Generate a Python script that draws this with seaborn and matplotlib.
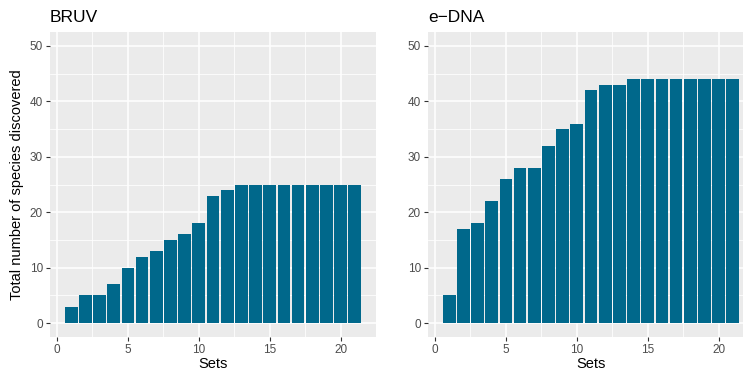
import numpy as np
import pandas as pd
import matplotlib
matplotlib.use("Agg")
import matplotlib.pyplot as plt
from matplotlib.ticker import MultipleLocator
import seaborn as sns

sets = list(range(1, 22))
bruv = [3, 5, 5, 7, 10, 12, 13, 15, 16, 18, 23, 24, 25, 25, 25, 25, 25, 25, 25, 25, 25]
edna = [5, 17, 18, 22, 26, 28, 28, 32, 35, 36, 42, 43, 43, 44, 44, 44, 44, 44, 44, 44, 44]
panel_titles = ["BRUV", "e\u2212DNA"]
bar_color = "#00688B"

plt.rcParams['font.family'] = ['Liberation Sans', 'DejaVu Sans']

fig = plt.figure(figsize=(7.43, 3.75), dpi=100)
W, H = 743, 375
panel_w = 326
panel_h = 305
lefts = [50, 428]
bottom = 375 - 337

for i, (vals, title) in enumerate(zip([bruv, edna], panel_titles)):
    ax = fig.add_axes([lefts[i] / W, bottom / H, panel_w / W, panel_h / H])
    df = pd.DataFrame({"Sets": sets, "Species": vals})
    ax.set_facecolor("#EBEBEB")
    ax.set_axisbelow(True)
    sns.barplot(data=df, x="Sets", y="Species", native_scale=True, color=bar_color,
                saturation=1, width=0.9, edgecolor="none", linewidth=0, ax=ax, zorder=3)
    ax.set_xlim(-0.495, 22.495)
    ax.set_ylim(-2.5, 52.5)
    ax.xaxis.set_major_locator(MultipleLocator(5))
    ax.xaxis.set_minor_locator(MultipleLocator(2.5))
    ax.yaxis.set_major_locator(MultipleLocator(10))
    ax.yaxis.set_minor_locator(MultipleLocator(5))
    ax.grid(which="major", color="white", linewidth=1.1, zorder=0)
    ax.grid(which="minor", color="white", linewidth=0.55, zorder=0)
    for s in ax.spines.values():
        s.set_visible(False)
    ax.tick_params(which="major", length=3, width=0.8, color="#333333",
                   labelcolor="#4D4D4D", labelsize=8.5, pad=2)
    ax.tick_params(which="minor", length=0)
    ax.set_xlabel("Sets", fontsize=10.5, color="black", labelpad=1)
    if i == 0:
        ax.set_ylabel("Total number of species discovered", fontsize=10.5, color="black", labelpad=4)
    else:
        ax.set_ylabel("")
    ax.set_title(title, loc="left", fontsize=12.5, color="black", pad=7)

fig.savefig("out.png", dpi=100)
